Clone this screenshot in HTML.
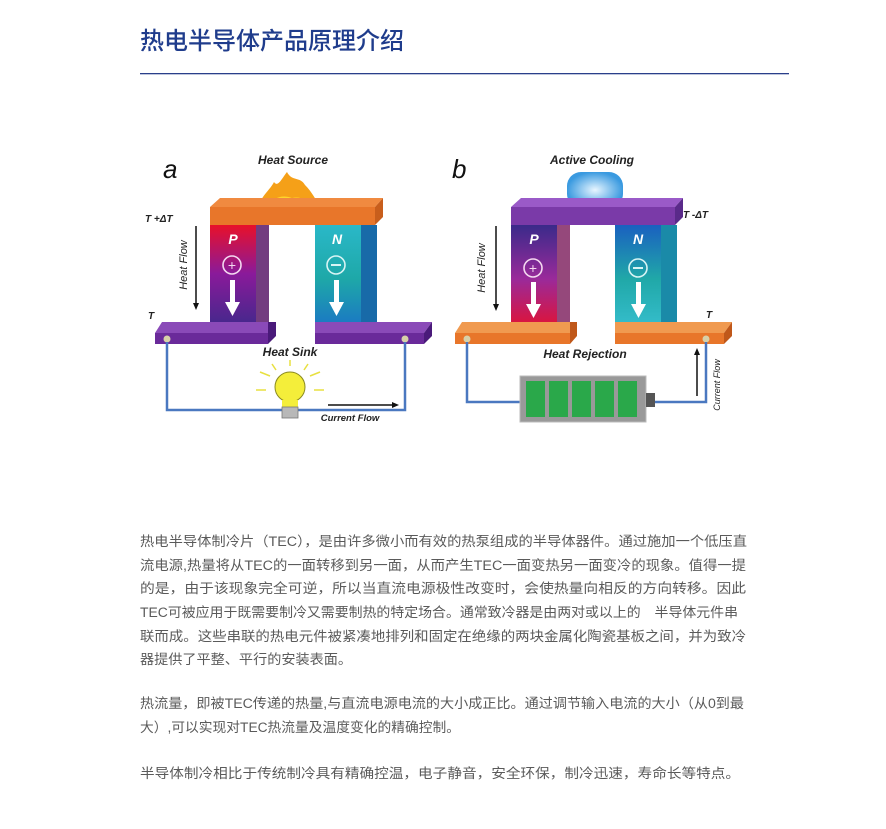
<!DOCTYPE html>
<html><head><meta charset="utf-8"><style>
html,body{margin:0;padding:0;background:#fff;}
svg{display:block}
.t{font-family:"Liberation Sans","Noto Sans CJK SC",sans-serif;font-size:13.5px;fill:#5a5a5a}
.lb{font-family:"Liberation Sans",sans-serif;font-weight:bold;font-style:italic;fill:#222}
</style></head><body>
<svg width="886" height="829" viewBox="0 0 886 829" xmlns="http://www.w3.org/2000/svg">
<defs>
<linearGradient id="pa" x1="0" y1="0" x2="0" y2="1"><stop offset="0" stop-color="#e8102a"/><stop offset="0.45" stop-color="#8a1a9a"/><stop offset="1" stop-color="#3a2a8a"/></linearGradient>
<linearGradient id="na" x1="0" y1="0" x2="0" y2="1"><stop offset="0" stop-color="#2ab8c8"/><stop offset="0.5" stop-color="#1ea8a8"/><stop offset="1" stop-color="#1a70c8"/></linearGradient>
<linearGradient id="pb" x1="0" y1="0" x2="0" y2="1"><stop offset="0" stop-color="#3a2a8a"/><stop offset="0.5" stop-color="#9a2a9a"/><stop offset="1" stop-color="#e8102a"/></linearGradient>
<linearGradient id="nb" x1="0" y1="0" x2="0" y2="1"><stop offset="0" stop-color="#1a60c0"/><stop offset="0.5" stop-color="#20a8a8"/><stop offset="1" stop-color="#38c0d0"/></linearGradient>
<radialGradient id="ice"><stop offset="0" stop-color="#e8f6ff"/><stop offset="1" stop-color="#3a9ae0"/></radialGradient>
</defs>
<text x="140" y="49" font-family="Liberation Sans,Noto Sans CJK SC,sans-serif" font-size="24" fill="#1f3c8c" font-weight="500">热电半导体产品原理介绍</text>
<rect x="140" y="73" width="649" height="1.3" fill="#2a3f8a"/>

<!-- Panel a -->
<text x="163" y="178" font-family="Liberation Sans,sans-serif" font-style="italic" font-size="26" fill="#111">a</text>
<text x="293" y="164" text-anchor="middle" class="lb" font-size="12">Heat Source</text>
<path d="M258 207 C262 195 270 190 274 182 C278 188 282 178 287 172 C292 182 300 176 305 185 C312 192 316 200 320 207 Z" fill="#f5a018"/>
<path d="M266 207 C272 198 282 194 292 198 C300 196 308 200 312 207 Z" fill="#ffd52a"/>
<path d="M220 198 L383 198 L375 207 L210 207 Z" fill="#f08a40"/>
<rect x="210" y="207" width="165" height="18" fill="#e8762a"/>
<path d="M375 207 L383 198 L383 217 L375 225Z" fill="#c85e1c"/>
<rect x="210" y="225" width="46" height="108" fill="url(#pa)"/>
<rect x="256" y="225" width="13" height="108" fill="#5a1a6a" opacity="0.85"/>
<rect x="315" y="225" width="46" height="108" fill="url(#na)"/>
<rect x="361" y="225" width="16" height="108" fill="#186aa8"/>
<text x="233" y="244" text-anchor="middle" class="lb" font-size="14" fill="#fff" style="fill:#fff">P</text>
<text x="337" y="244" text-anchor="middle" class="lb" font-size="14" style="fill:#fff">N</text>
<circle cx="232" cy="265" r="9" fill="none" stroke="#f4d8f0" stroke-width="1.6"/><text x="232" y="270" text-anchor="middle" font-size="14" fill="#f4d8f0" font-family="Liberation Sans">+</text>
<circle cx="336" cy="265" r="9" fill="none" stroke="#d8f4f4" stroke-width="1.6"/><rect x="331" y="264" width="10" height="2" fill="#d8f4f4"/>
<path d="M230 280 h5 v22 h5 l-7.5 14 l-7.5 -14 h5z" fill="#fff"/>
<path d="M334 280 h5 v22 h5 l-7.5 14 l-7.5 -14 h5z" fill="#fff"/>
<path d="M162 322 L268 322 L268 333 L155 333Z" fill="#8a4ab8"/>
<rect x="155" y="333" width="113" height="11" fill="#6a2a9a"/>
<path d="M268 322 L276 322 L276 336 L268 344Z" fill="#4a1a7a"/>
<path d="M315 322 L432 322 L424 333 L315 333Z" fill="#8a4ab8"/>
<rect x="315" y="333" width="109" height="11" fill="#6a2a9a"/>
<path d="M424 333 L432 322 L432 336 L424 344Z" fill="#4a1a7a"/>
<circle cx="167" cy="339" r="3.5" fill="#d8d0a8"/><circle cx="405" cy="339" r="3.5" fill="#d8d0a8"/>
<path d="M167 342 V410 H405 V342" fill="none" stroke="#4a78c0" stroke-width="2.5"/>
<text x="290" y="356" text-anchor="middle" class="lb" font-size="12">Heat Sink</text>
<g stroke="#e8e040" stroke-width="1.5"><line x1="260" y1="372" x2="270" y2="376"/><line x1="320" y1="372" x2="310" y2="376"/><line x1="290" y1="360" x2="290" y2="366"/><line x1="266" y1="390" x2="256" y2="390"/><line x1="314" y1="390" x2="324" y2="390"/><line x1="272" y1="364" x2="276" y2="370"/><line x1="308" y1="364" x2="304" y2="370"/></g>
<circle cx="290" cy="387" r="15" fill="#f4ee3a" stroke="#8a8a20" stroke-width="1"/>
<rect x="282" y="400" width="16" height="8" fill="#f4ee3a"/>
<rect x="282" y="407" width="16" height="11" fill="#b8b8b8" stroke="#777" stroke-width="0.8"/>
<text x="350" y="421" text-anchor="middle" class="lb" font-size="9.5">Current Flow</text>
<path d="M328 405 H396" stroke="#111" stroke-width="1.5"/><path d="M399 405 l-7 -3 v6z" fill="#111"/>
<text x="145" y="222" class="lb" font-size="10">T +ΔT</text>
<text x="148" y="319" class="lb" font-size="10">T</text>
<text transform="translate(187,265) rotate(-90)" text-anchor="middle" class="lb" font-size="11" style="font-weight:normal">Heat Flow</text>
<path d="M196 226 V305" stroke="#111" stroke-width="1.5"/><path d="M196 310 l-3 -7 h6z" fill="#111"/>

<!-- Panel b -->
<text x="452" y="178" font-family="Liberation Sans,sans-serif" font-style="italic" font-size="26" fill="#111">b</text>
<text x="592" y="164" text-anchor="middle" class="lb" font-size="12">Active Cooling</text>
<rect x="567" y="172" width="56" height="36" rx="14" fill="url(#ice)"/>
<path d="M521 198 L683 198 L675 207 L511 207 Z" fill="#9a5ac8"/>
<rect x="511" y="207" width="164" height="18" fill="#7a3aa8"/>
<path d="M675 207 L683 198 L683 217 L675 225Z" fill="#5a2a8a"/>
<rect x="511" y="225" width="46" height="108" fill="url(#pb)"/>
<rect x="557" y="225" width="13" height="108" fill="#7a1a5a" opacity="0.8"/>
<rect x="615" y="225" width="46" height="108" fill="url(#nb)"/>
<rect x="661" y="225" width="16" height="108" fill="#1a8aa8"/>
<text x="534" y="244" text-anchor="middle" class="lb" font-size="14" style="fill:#fff">P</text>
<text x="638" y="244" text-anchor="middle" class="lb" font-size="14" style="fill:#fff">N</text>
<circle cx="533" cy="268" r="9" fill="none" stroke="#f4d8f0" stroke-width="1.6"/><text x="533" y="273" text-anchor="middle" font-size="14" fill="#f4d8f0" font-family="Liberation Sans">+</text>
<circle cx="638" cy="268" r="9" fill="none" stroke="#d8f4f4" stroke-width="1.6"/><rect x="633" y="267" width="10" height="2" fill="#d8f4f4"/>
<path d="M531 282 h5 v22 h5 l-7.5 14 l-7.5 -14 h5z" fill="#fff"/>
<path d="M636 282 h5 v22 h5 l-7.5 14 l-7.5 -14 h5z" fill="#fff"/>
<path d="M462 322 L570 322 L570 333 L455 333Z" fill="#f09a50"/>
<rect x="455" y="333" width="115" height="11" fill="#e8762a"/>
<path d="M570 322 L577 322 L577 336 L570 344Z" fill="#c0581a"/>
<path d="M615 322 L732 322 L724 333 L615 333Z" fill="#f09a50"/>
<rect x="615" y="333" width="109" height="11" fill="#e8762a"/>
<path d="M724 333 L732 322 L732 336 L724 344Z" fill="#c0581a"/>
<circle cx="467" cy="339" r="3.5" fill="#d8d0a8"/><circle cx="706" cy="339" r="3.5" fill="#d8d0a8"/>
<path d="M467 342 V402 H522 M655 402 H706 V342" fill="none" stroke="#4a78c0" stroke-width="2.5"/>
<text x="585" y="358" text-anchor="middle" class="lb" font-size="12">Heat Rejection</text>
<text x="706" y="318" class="lb" font-size="10">T</text>
<text x="683" y="218" class="lb" font-size="10">T -ΔT</text>
<rect x="520" y="376" width="126" height="46" fill="#999" stroke="#bbb"/>
<g fill="#2aa84a"><rect x="526" y="381" width="19" height="36"/><rect x="549" y="381" width="19" height="36"/><rect x="572" y="381" width="19" height="36"/><rect x="595" y="381" width="19" height="36"/><rect x="618" y="381" width="19" height="36"/></g>
<rect x="646" y="393" width="9" height="14" fill="#555"/>
<text transform="translate(485,268) rotate(-90)" text-anchor="middle" class="lb" font-size="11" style="font-weight:normal">Heat Flow</text>
<path d="M496 226 V306" stroke="#111" stroke-width="1.5"/><path d="M496 311 l-3 -7 h6z" fill="#111"/>
<text transform="translate(720,385) rotate(-90)" text-anchor="middle" class="lb" font-size="9" style="font-weight:normal">Current Flow</text>
<path d="M697 396 V352" stroke="#111" stroke-width="1.5"/><path d="M697 348 l-3 7 h6z" fill="#111"/>

<!-- text -->
<text class="t" x="140" y="546" textLength="607" lengthAdjust="spacingAndGlyphs">热电半导体制冷片（TEC），是由许多微小而有效的热泵组成的半导体器件。通过施加一个低压直</text>
<text class="t" x="140" y="570" textLength="606" lengthAdjust="spacingAndGlyphs">流电源,热量将从TEC的一面转移到另一面，从而产生TEC一面变热另一面变冷的现象。值得一提</text>
<text class="t" x="140" y="593" textLength="606" lengthAdjust="spacingAndGlyphs">的是，由于该现象完全可逆，所以当直流电源极性改变时，会使热量向相反的方向转移。因此</text>
<text class="t" x="140" y="617" textLength="598" lengthAdjust="spacingAndGlyphs">TEC可被应用于既需要制冷又需要制热的特定场合。通常致冷器是由两对或以上的　半导体元件串</text>
<text class="t" x="140" y="641" textLength="606" lengthAdjust="spacingAndGlyphs">联而成。这些串联的热电元件被紧凑地排列和固定在绝缘的两块金属化陶瓷基板之间，并为致冷</text>
<text class="t" x="140" y="664" textLength="212" lengthAdjust="spacingAndGlyphs">器提供了平整、平行的安装表面。</text>
<text class="t" x="140" y="708" textLength="604" lengthAdjust="spacingAndGlyphs">热流量，即被TEC传递的热量,与直流电源电流的大小成正比。通过调节输入电流的大小（从0到最</text>
<text class="t" x="140" y="732" textLength="320" lengthAdjust="spacingAndGlyphs">大）,可以实现对TEC热流量及温度变化的精确控制。</text>
<text class="t" x="140" y="778" textLength="600" lengthAdjust="spacingAndGlyphs">半导体制冷相比于传统制冷具有精确控温，电子静音，安全环保，制冷迅速，寿命长等特点。</text>
</svg>
</body></html>
